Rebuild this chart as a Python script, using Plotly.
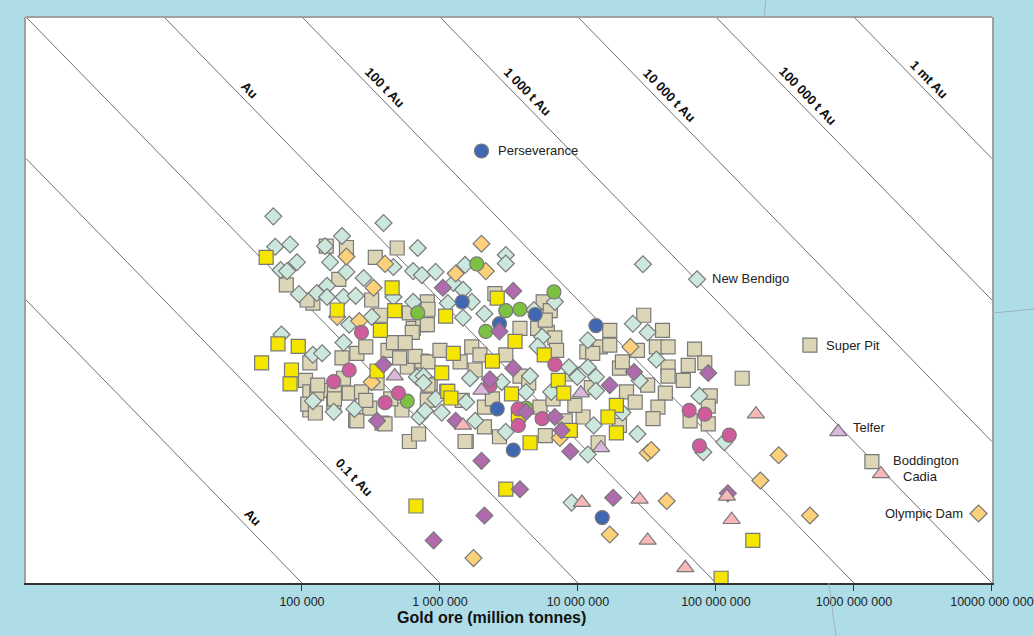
import numpy as np
import plotly.graph_objects as go

# ---------------- data: ore tonnage (t) and grade (g/t Au) ----------------
tan_ore = [1.5e5, 2.1e5, 4.9e5, 3.4e5, 1.85e5, 7.7e4, 1.2e5, 1.09e5, 3.2e5, 3.7e5, 6.0e5, 6.4e5, 7.5e5,
           2.5e6, 8.1e5, 8.2e5, 8.1e5, 5.6e6, 6.3e6, 5.1e6, 6.0e6, 3.0e7, 4.1e7, 1.14e5, 1.95e5, 2.5e5,
           2.9e5, 4.2e5, 5.4e5, 6.3e5, 1.06e5, 1.14e5, 1.42e5, 1.72e5, 2.2e5, 2.7e5, 3.5e5, 1.14e5, 1.7e5,
           2.45e5, 3.8e5, 5.3e5, 6.0e5, 3.1e5, 1.1e5, 1.25e5, 1.28e5, 5.8e5, 5.1e5, 7.0e5, 1.55e6, 7.4e5,
           6.6e5, 4.6e5, 5.6e5, 8.5e5, 1.12e6, 6.8e6, 7.0e6, 1.16e7, 1.7e6, 1.4e6, 8.2e5, 8.2e5, 8.1e5,
           1.09e7, 1.52e6, 2.7e6, 5.8e6, 1.45e7, 1.28e7, 2.7e7, 3.7e7, 4.5e7, 7.0e7, 6.3e7, 8.3e7, 4.5e7,
           4.5e7, 5.8e7, 1.55e8, 2.0e7, 2.1e7, 2.25e7, 3.2e7, 4.3e7, 9.1e7, 8.8e7, 8.8e7, 3.8e7, 3.5e7,
           1.4e7, 2.5e5, 4.0e5, 1.72e5, 3.8e6, 5.8e6, 1.7e7, 1.95e6, 3.0e6, 1.0e6, 1.45e6, 2.1e6, 5.3e6,
           9.5e6, 8.1e6, 3.8e6, 2.1e6, 1.7e7, 2.0e7, 6.5e7, 1.3e5, 2.0e5, 2.9e5, 4.4e5, 1.8e6, 2.4e6,
           4.4e6, 6.6e6, 9.0e6, 1.25e7, 2.6e7]
tan_grade = [24, 23.5, 23.3, 20, 14, 12.8, 9.5, 10, 10, 7.8, 8.1, 6.3, 6.7,
             11.1, 9.7, 8.6, 6.7, 9.7, 8.4, 6.3, 5.9, 7.8, 6.1, 3.6, 3.9, 4.2,
             4.66, 4.4, 5.0, 5.9, 2.7, 2.24, 2.3, 2.2, 2.2, 2.24, 2.6, 1.67, 1.9,
             1.41, 1.35, 1.67, 1.0, 1.72, 1.84, 1.59, 2.2, 3.36, 3.9, 1.13, 1.0, 3.7,
             4.0, 5.0, 5.0, 2.55, 2.26, 5.4, 4.4, 4.3, 4.66, 3.65, 3.65, 2.5, 1.96,
             1.49, 1.0, 1.08, 1.1, 4.66, 4.2, 4.4, 4.66, 4.66, 4.5, 3.45, 3.6, 3.36,
             2.9, 2.7, 2.8, 3.3, 3.65, 2.24, 2.5, 2.2, 2.1, 1.78, 1.33, 1.75, 1.45,
             0.98, 1.4, 1.33, 2.0, 6.3, 7.2, 4.8, 4.1, 4.1, 4.4, 1.95, 1.75, 1.75,
             1.8, 1.4, 2.9, 1.27, 6.1, 1.3, 1.4, 2.5, 2.8, 1.95, 2.0, 3.2, 2.0,
             2.6, 2.0, 3.0, 2.4, 1.9]

teal_ore = [6.2e4, 3.9e5, 6.4e4, 8.2e4, 1.47e5, 1.95e5, 6.9e5, 9.2e4, 7.0e4, 7.8e4, 1.6e5, 2.1e5, 2.8e5,
            4.6e5, 6.4e5, 7.4e5, 9.3e5, 9.5e4, 1.28e5, 1.52e5, 1.52e5, 2.0e5, 2.45e5, 4.6e5, 6.4e5, 2.2e5,
            3.2e5, 7.1e4, 1.52e6, 3.0e6, 3.0e6, 1.25e6, 1.47e6, 1.14e6, 1.7e6, 2.1e6, 1.47e6, 6.8e6, 4.8e6,
            2.96e7, 2.5e7, 3.2e7, 1.2e5, 1.4e5, 2.0e5, 1.2e5, 1.7e5, 2.4e5, 6.8e5, 7.1e5, 7.6e5, 1.03e6,
            5.5e6, 5.1e6, 1.18e7, 4.5e6, 1.65e6, 2.8e6, 4.2e6, 1.55e6, 9.3e5, 7.8e5, 1.8e6, 3.0e6, 1.18e7,
            3.7e7, 1.35e7, 2.8e7, 1.35e7, 7.6e7, 2.1e7, 2.7e7, 1.3e7, 1.15e8, 8.1e7, 9.0e6, 8.6e6, 9.9e6,
            1.18e7, 6.4e6, 7.6e5]
teal_grade = [39, 35, 23.8, 24.7, 24, 28.3, 23.3, 18.5, 16.3, 16, 18.5, 15.8, 14.3,
              17.1, 16, 15, 15.8, 11, 11.2, 12.6, 10.5, 10.5, 10.7, 10.5, 9.7, 6.7,
              7.6, 5.7, 17.7, 20.8, 18.1, 13.2, 11.8, 9.5, 9.7, 8.0, 7.5, 9.7, 8.5,
              17.9, 6.8, 5.9, 4.1, 4.2, 5.0, 1.93, 1.62, 1.7, 2.86, 1.49, 2.9, 1.6,
              5.5, 4.7, 5.2, 2.9, 2.8, 2.63, 2.24, 1.9, 2.0, 1.65, 1.4, 1.17, 0.81,
              3.8, 2.86, 2.7, 2.28, 2.1, 1.6, 1.13, 1.3, 0.99, 0.84, 0.37, 3.35, 2.86,
              3.35, 2.24, 2.6]

orange_ore = [2.1e5, 4.0e5, 3.3e5, 1.8e5, 2.6e5, 2.0e6, 1.3e6, 2.15e6, 3.2e5, 7.4e6, 2.4e7, 3.2e7, 3.4e7,
              2.85e8, 2.1e8, 4.8e8, 4.4e7, 1.7e7, 1.75e6]
orange_grade = [20.3, 18, 12.2, 7.6, 7.1, 25, 15.4, 16, 2.63, 1.06, 4.66, 0.83, 0.87,
                0.8, 0.53, 0.3, 0.38, 0.22, 0.15]

yellow_ore = [5.5e4, 4.5e5, 1.8e5, 4.7e5, 3.7e5, 1.1e6, 2.6e6, 6.7e4, 9.4e4, 5.1e4, 8.4e4, 8.2e4, 3.5e5,
              3.5e6, 1.25e6, 5.7e6, 2.4e6, 1.03e6, 7.2e6, 7.9e6, 1.14e6, 1.2e6, 3.3e6, 3.7e6, 8.8e6, 4.5e6,
              1.9e7, 1.65e7, 1.9e7, 3.0e6, 6.7e5, 1.85e8, 1.09e8]
yellow_grade = [20, 12.2, 8.5, 8.4, 6.1, 7.7, 10.3, 4.9, 4.7, 3.6, 3.2, 2.55, 3.15,
                5.1, 4.2, 4.1, 3.7, 3.05, 2.7, 2.2, 2.26, 2.03, 2.17, 1.54, 1.2, 0.98,
                1.8, 1.49, 1.15, 0.46, 0.35, 0.2, 0.108]

green_ore = [6.9e5, 1.85e6, 6.7e6, 3.0e6, 3.8e6, 2.15e6, 5.8e5, 4.2e6]
green_grade = [8.1, 18, 11.4, 8.4, 8.6, 6.0, 1.93, 1.72]

blue_ore = [1.45e6, 4.9e6, 2.7e6, 1.35e7, 2.6e6, 3.4e6, 1.5e7]
blue_grade = [9.7, 7.9, 6.8, 6.6, 1.7, 0.87, 0.29]

magenta_ore = [2.7e5, 2.2e5, 1.7e5, 5.0e5, 4.0e5, 2.3e6, 6.8e6, 3.7e6, 5.5e6, 3.7e6, 6.4e7, 8.3e7, 1.25e8, 7.6e7]
magenta_grade = [5.9, 3.2, 2.65, 2.2, 1.88, 2.48, 3.5, 1.7, 1.45, 1.3, 1.66, 1.56, 1.11, 0.93]

purple_ore = [1.05e6, 3.4e6, 2.7e6, 3.9e5, 3.5e5, 3.4e6, 2.3e6, 4.2e6, 6.8e6, 7.6e6, 1.3e6, 2.0e6, 8.8e6,
              8.8e7, 2.55e7, 1.7e7, 1.22e8, 1.8e7, 3.8e6, 2.1e6, 9.0e5]
purple_grade = [12.2, 11.6, 6.0, 3.5, 1.4, 3.3, 2.75, 1.62, 1.49, 1.2, 1.4, 0.73, 0.85,
                3.05, 3.1, 2.5, 0.43, 0.4, 0.46, 0.3, 0.2]

pink_ore = [1.47e6, 1.95e8, 1.2e8, 1.07e7, 2.8e7, 1.3e8, 3.2e7, 6.0e7]
pink_grade = [1.3, 1.56, 0.41, 0.37, 0.39, 0.28, 0.2, 0.128]

lavender_ore = [4.7e5, 2.0e6, 1.05e7, 1.47e7]
lavender_grade = [2.9, 2.3, 2.2, 0.9]

# named deposits
deposit_names = ["Perseverance", "New Bendigo", "Super Pit", "Telfer", "Boddington", "Cadia", "Olympic Dam"]
deposit_ore = [2.0e6, 7.3e7, 4.8e8, 7.7e8, 1.35e9, 1.57e9, 8.0e9]
deposit_grade = [113, 14.0, 4.8, 1.17, 0.72, 0.59, 0.31]
deposit_group = ["blue", "teal", "tan", "lavender", "tan", "pink", "orange"]

# contained-gold reference lines (tonnes Au) and their labels
contained_t = [0.01, 0.1, 1, 10, 100, 1000, 10000, 100000, 1000000]
contained_labels = ["Au", "0.1 t Au", "", "Au", "100 t Au", "1 000 t Au", "10 000 t Au", "100 000 t Au", "1 mt Au"]

tick_vals = [1e5, 1e6, 1e7, 1e8, 1e9, 1e10]
tick_text = ["100 000", "1 000 000", "10 000 000", "100 000 000", "1000 000 000", "10000 000 000"]

# ---------------- styling ----------------
FONT = "Liberation Sans, Arial, sans-serif"
EDGE = "#787878"
styles = {
    "tan": dict(symbol="square", color="#ddd6b6", size=14),
    "teal": dict(symbol="diamond", color="#cce8dc", size=13),
    "orange": dict(symbol="diamond", color="#fdd07a", size=13),
    "yellow": dict(symbol="square", color="#f5e600", size=14),
    "green": dict(symbol="circle", color="#7cc142", size=14),
    "blue": dict(symbol="circle", color="#4068b2", size=14),
    "magenta": dict(symbol="circle", color="#cf5c9c", size=14),
    "purple": dict(symbol="diamond", color="#b06aae", size=13),
    "pink": dict(symbol="triangle-up", color="#f8b8b8", size=15),
    "lavender": dict(symbol="triangle-up", color="#dab8dc", size=15),
}
groups = {
    "tan": (tan_ore, tan_grade), "teal": (teal_ore, teal_grade), "orange": (orange_ore, orange_grade),
    "yellow": (yellow_ore, yellow_grade), "green": (green_ore, green_grade), "blue": (blue_ore, blue_grade),
    "magenta": (magenta_ore, magenta_grade), "purple": (purple_ore, purple_grade),
    "pink": (pink_ore, pink_grade), "lavender": (lavender_ore, lavender_grade),
}

X_MIN, X_MAX = 1e3, 1e10
Y_MIN, Y_MAX = 0.1, 1000

fig = go.Figure()

# reference lines
for c in contained_t:
    g = c * 1e6
    x0 = max(X_MIN, g / Y_MAX)
    x1 = min(X_MAX, g / Y_MIN)
    fig.add_trace(go.Scatter(x=[x0, x1], y=[g / x0, g / x1], mode="lines",
                             line=dict(color="#707070", width=1), hoverinfo="skip", showlegend=False))

# marker groups
for key, (ore, grade) in groups.items():
    ore = list(ore)
    grade = list(grade)
    for n, o, gr, grp in zip(deposit_names, deposit_ore, deposit_grade, deposit_group):
        if grp == key:
            ore.append(o)
            grade.append(gr)
    st = styles[key]
    fig.add_trace(go.Scatter(x=ore, y=grade, mode="markers", showlegend=False,
                             marker=dict(symbol=st["symbol"], color=st["color"], size=st["size"],
                                         line=dict(color=EDGE, width=1.2))))

annotations = []
# line labels: position along line (ore) and shift
label_ore = [4.4e4, 2.4e5, None, 4.2e4, 4.0e5, 4.3e6, 4.6e7, 4.6e8, 3.5e9]
label_shift = [15, 18, 0, 15, 15, 15, 15, 15, 14]
for c, txt, lo, sh in zip(contained_t, contained_labels, label_ore, label_shift):
    if not txt:
        continue
    g = c * 1e6
    annotations.append(dict(x=np.log10(lo), y=np.log10(g / lo), xref="x", yref="y", text="<b>" + txt + "</b>",
                            showarrow=False, textangle=45.7, yshift=sh,
                            font=dict(family=FONT, size=13, color="#111"),
                            xanchor="center", yanchor="middle"))

# deposit labels
dep_xshift = [15, 13, 14, 13, 19, 20, -14]
dep_yshift = [0, 1, 0, 4, 1, -3, 0]
for n, o, gr, xs, ys in zip(deposit_names, deposit_ore, deposit_grade, dep_xshift, dep_yshift):
    annotations.append(dict(x=np.log10(o), y=np.log10(gr), xref="x", yref="y", text=n,
                            showarrow=False, xshift=xs, yshift=ys,
                            xanchor="right" if xs < 0 else "left", yanchor="middle",
                            font=dict(family=FONT, size=13, color="#222")))

# axis title
annotations.append(dict(x=0.482, y=-0.061, xref="paper", yref="paper", text="<b>Gold ore (million tonnes)</b>",
                        showarrow=False, xanchor="center", yanchor="middle",
                        font=dict(family=FONT, size=16, color="#111")))

shapes = [
    dict(type="line", xref="paper", yref="paper", x0=0, x1=1, y0=1, y1=1,
         line=dict(color="#a0a0a0", width=2)),
    dict(type="line", xref="paper", yref="paper", x0=0.764, x1=0.766, y0=1.0, y1=1.03,
         line=dict(color="#9fb3b8", width=1)),
    dict(type="line", xref="paper", yref="paper", x0=1.0, x1=1.0435, y0=0.477, y1=0.484,
         line=dict(color="#9fb3b8", width=1)),
    dict(type="line", xref="paper", yref="paper", x0=0.831, x1=0.8385, y0=0.0, y1=-0.094,
         line=dict(color="#9fb3b8", width=1)),
]

fig.update_layout(
    width=1034, height=636,
    margin=dict(l=26, r=42, t=17, b=53, autoexpand=False),
    paper_bgcolor="#aedde7",
    plot_bgcolor="white",
    showlegend=False,
    annotations=annotations,
    shapes=shapes,
    font=dict(family=FONT),
    xaxis=dict(type="log", range=[np.log10(X_MIN), np.log10(X_MAX) + 0.0008], showgrid=False, zeroline=False,
               tickvals=tick_vals, ticktext=tick_text, ticks="outside", ticklen=6, tickcolor="#333",
               tickfont=dict(family=FONT, size=12.5, color="#222"), automargin=False,
               showline=True, linecolor="#333", linewidth=2),
    yaxis=dict(type="log", range=[np.log10(Y_MIN), np.log10(Y_MAX)], showgrid=False, zeroline=False,
               showticklabels=False, ticks="", showline=True, mirror=True, linecolor="#a0a0a0", linewidth=2),
)

fig.write_html("out.html", config={"displayModeBar": False},
               post_script="document.body.style.margin='0';document.body.style.overflow='hidden';")
